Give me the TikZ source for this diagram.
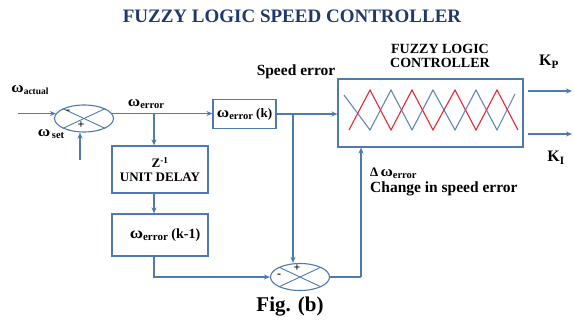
\documentclass[tikz,border=0pt]{standalone}
\usepackage{fontspec}
\usepackage{graphicx}
\setmainfont{Liberation Serif}
\usetikzlibrary{shapes.geometric,arrows.meta}
\definecolor{lb}{RGB}{79,122,176}
\definecolor{tb}{RGB}{31,56,110}
\definecolor{zr}{RGB}{230,40,50}
\definecolor{zb}{RGB}{95,135,185}
\newcommand{\wsub}[2]{\scalebox{1.3}[1.15]{ω}\raisebox{-0.35ex}{\fontsize{#2}{#2}\selectfont #1}}
\begin{document}
\begin{tikzpicture}[x=1pt,y=-1pt,font=\bfseries,
  blk/.style={draw=lb,line width=1.1pt,inner sep=0pt,align=center},
  sumj/.style={ellipse,draw=lb,line width=1.1pt,minimum width=59pt,minimum height=27pt,inner sep=0pt},
  crs/.style={draw=lb,line width=0.9pt},
  conn/.style={draw=lb,line width=1.1pt,-{Stealth[length=6pt,width=5pt]}},
  wire/.style={draw=lb,line width=1.1pt},
  lbl/.style={inner sep=0pt,font=\bfseries\fontsize{13}{15}\selectfont},
  big/.style={inner sep=0pt,font=\bfseries\fontsize{15.5}{17}\selectfont},
  sgn/.style={inner sep=0pt,font=\bfseries\fontsize{12}{12}\selectfont}]
\useasboundingbox (0,0) rectangle (574,320);
% title
\node[inner sep=0pt,text=tb,font=\bfseries\fontsize{19}{22}\selectfont] (title) at (292,16) {FUZZY LOGIC SPEED CONTROLLER};
% summing junction 1
\node[sumj] (s1) at (84,118.5) {};
\draw[crs] (s1.north west) -- (s1.south east);
\draw[crs] (s1.south west) -- (s1.north east);
\node[sgn] (s1m) at (68,112) {-};
\node[sgn] (s1p) at (81,125) {+};
\coordinate (in1) at (18,114);
\coordinate (in2) at (80,160);
\draw[conn] (in1 |- s1.170) -- (s1.170);
\draw[conn] (in2) -- (in2 |- s1.south);
\node[lbl] (wact) at (30,90) {\wsub{actual}{9.5}};
\node[lbl] (wset) at (51,134) {\wsub{\,set}{10.5}};
% error(k) box
\node[blk,minimum width=63pt,minimum height=29pt,font=\bfseries\fontsize{13}{15}\selectfont] (err) at (244.5,114) {\wsub{error}{10.5} (k)};
\draw[conn] (s1.10) -- (err.west |- s1.10);
\node[lbl] (werr) at (146,104) {\wsub{error}{10.5}};
\coordinate (b1) at (154,114);
% unit delay
\node[blk,minimum width=96pt,minimum height=47pt,font=\bfseries\fontsize{13}{14}\selectfont] (delay) at (160,169.5) {Z\textsuperscript{-1}\\UNIT DELAY};
\draw[conn] (b1 |- s1.10) -- (b1 |- delay.north);
\node[blk,minimum width=96pt,minimum height=42pt,font=\bfseries\fontsize{14}{16}\selectfont] (prev) at (160,235) {\hspace{10pt}\wsub{error}{11} (k-1)};
\draw[conn] (b1 |- delay.south) -- (b1 |- prev.north);
% summing junction 2
\node[sumj] (s2) at (300,277) {};
\draw[crs] (s2.north west) -- (s2.south east);
\draw[crs] (s2.south west) -- (s2.north east);
\node[sgn] (s2p) at (297,268) {+};
\node[sgn] (s2m) at (279,276) {-};
\coordinate (c2) at (154,277);
\draw[conn] (b1 |- prev.south) -- (c2) -- (s2.west);
\coordinate (b2) at (293,114);
% FLC
\node[blk,minimum width=185pt,minimum height=68pt] (flc) at (430.5,113) {};
\draw[conn] (err.east) -- (flc.west |- err.east);
\draw[conn] (b2) -- (b2 |- s2.north);
\coordinate (c3) at (361,277);
\draw[wire] (s2.east) -- (c3);
\draw[conn] (c3) -- (c3 |- flc.south);
% membership functions
\draw[zb,line width=1.1pt] (344,95) -- (370,130) -- (391,90) -- (412,130) -- (433,90) -- (455,130) -- (476,90) -- (497,130) -- (515,94);
\draw[zr,line width=1.1pt] (349,130) -- (370,90) -- (391,130) -- (412,90) -- (433,130) -- (455,90) -- (476,130) -- (497,90) -- (518,130);
\node[inner sep=0pt,align=center,font=\bfseries\fontsize{14}{14}\selectfont] (flct) at (440,56) {FUZZY LOGIC\\CONTROLLER};
\node[big] (sperr) at (296,72) {Speed error};
% outputs
\coordinate (o1a) at (528,91);
\coordinate (o1b) at (572,91);
\coordinate (o2a) at (528,134);
\coordinate (o2b) at (572,134);
\draw[conn] (o1a) -- (o1b);
\draw[conn] (o2a) -- (o2b);
\node[inner sep=0pt,font=\bfseries\fontsize{16}{16}\selectfont] (kp) at (549,62) {K\textsubscript{P}};
\node[inner sep=0pt,font=\bfseries\fontsize{16}{16}\selectfont] (ki) at (556,158) {K\textsubscript{I}};
\node[lbl,anchor=west] (dw) at (370,173) {Δ\,\wsub{error}{10.5}};
\node[inner sep=0pt,anchor=west,font=\bfseries\fontsize{15.5}{17}\selectfont] (chg) at (370,189) {Change in speed error};
\node[inner sep=0pt,font=\bfseries\fontsize{21}{23}\selectfont] (fig) at (290,307) {Fig. (b)};
\end{tikzpicture}
\end{document}
